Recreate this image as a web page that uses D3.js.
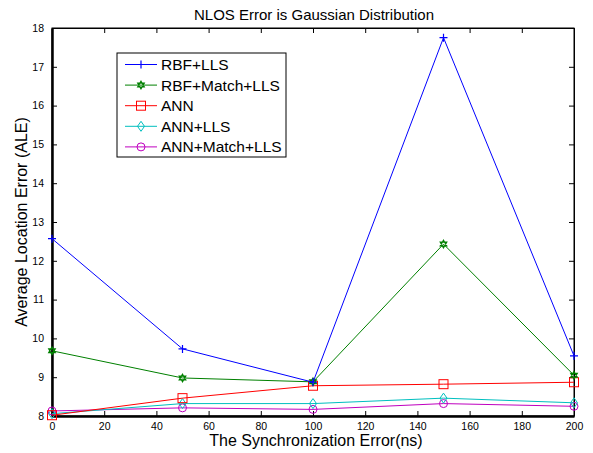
<!DOCTYPE html>
<html>
<head>
<meta charset="utf-8">
<script src="https://cdn.jsdelivr.net/npm/d3@7"></script>
<style>
  body { margin: 0; background: #fff; }
  text { font-family: "Liberation Sans", Arial, sans-serif; }
</style>
</head>
<body>
<script>
// data
var syncError = [0, 50, 100, 150, 200];
var rbfLls = [12.57, 9.73, 8.87, 17.75, 9.55];
var rbfMatchLls = [9.68, 8.98, 8.88, 12.43, 9.05];
var ann = [8.02, 8.46, 8.78, 8.82, 8.87];
var annLls = [8.06, 8.32, 8.32, 8.46, 8.34];
var annMatchLls = [8.13, 8.21, 8.17, 8.32, 8.25];
var seriesNames = ['RBF+LLS', 'RBF+Match+LLS', 'ANN', 'ANN+LLS', 'ANN+Match+LLS'];
var seriesColors = ['#0000ff', '#008000', '#ff0000', '#00bfbf', '#bf00bf'];
var seriesMarkers = ['plus', 'hex', 'square', 'diamond', 'circle'];
var xTicks = [0, 20, 40, 60, 80, 100, 120, 140, 160, 180, 200];
var yTicks = [8, 9, 10, 11, 12, 13, 14, 15, 16, 17, 18];

var allSeries = [rbfLls, rbfMatchLls, ann, annLls, annMatchLls];

var W = 593, H = 453;
var pLeft = 52, pRight = 574, pTop = 28, pBottom = 416;

var svg = d3.select('body').append('svg').attr('width', W).attr('height', H);

var x = d3.scaleLinear().domain([0, 200]).range([pLeft, pRight]);
var y = d3.scaleLinear().domain([8, 18]).range([pBottom, pTop]);

// frame
svg.append('rect').attr('x', pLeft).attr('y', pTop).attr('width', pRight - pLeft).attr('height', pBottom - pTop)
    .attr('fill', 'none').attr('stroke', '#000').attr('stroke-width', 1);

// axes with inward ticks
var gx = svg.append('g').attr('transform', 'translate(0,' + pBottom + ')')
    .call(d3.axisBottom(x).tickValues(xTicks).tickSizeInner(-5).tickSizeOuter(0).tickPadding(7));
var gxTop = svg.append('g').attr('transform', 'translate(0,' + pTop + ')')
    .call(d3.axisTop(x).tickValues(xTicks).tickSizeInner(-5).tickSizeOuter(0).tickFormat(''));
var gy = svg.append('g').attr('transform', 'translate(' + pLeft + ',0)')
    .call(d3.axisLeft(y).tickValues(yTicks).tickSizeInner(-5).tickSizeOuter(0).tickPadding(8));
var gyRight = svg.append('g').attr('transform', 'translate(' + pRight + ',0)')
    .call(d3.axisRight(y).tickValues(yTicks).tickSizeInner(-5).tickSizeOuter(0).tickFormat(''));

[gx, gxTop, gy, gyRight].forEach(function(g){
    g.selectAll('text').style('font-size', '10.5px').attr('fill', '#000');
    g.select('.domain').attr('stroke', '#000');
});
gx.select('.domain').attr('stroke-width', 2.5);
gy.select('.domain').attr('stroke-width', 2.5);

function hexagram(cx, cy, r){
    var p1 = [], p2 = [];
    for (var a = 0; a < 3; a++) {
        var t1 = -Math.PI / 2 + a * 2 * Math.PI / 3;
        var t2 = Math.PI / 2 + a * 2 * Math.PI / 3;
        p1.push([cx + r * Math.cos(t1), cy + r * Math.sin(t1)]);
        p2.push([cx + r * Math.cos(t2), cy + r * Math.sin(t2)]);
    }
    return 'M' + p1.join('L') + 'Z' + 'M' + p2.join('L') + 'Z';
}

function drawMarker(g, type, cx, cy, color){
    if (type == 'plus') {
        g.append('path').attr('d', 'M' + (cx - 4) + ',' + cy + 'H' + (cx + 4) + 'M' + cx + ',' + (cy - 4) + 'V' + (cy + 4))
            .attr('stroke', color).attr('stroke-width', 1.2).attr('fill', 'none');
    } else if (type == 'hex') {
        g.append('path').attr('d', hexagram(cx, cy, 3.8))
            .attr('stroke', color).attr('stroke-width', 1.2).attr('fill', 'none');
    } else if (type == 'square') {
        g.append('rect').attr('x', cx - 4.5).attr('y', cy - 4.5).attr('width', 9).attr('height', 9)
            .attr('stroke', color).attr('stroke-width', 1).attr('fill', 'none');
    } else if (type == 'diamond') {
        g.append('path').attr('d', 'M' + cx + ',' + (cy - 5) + 'L' + (cx + 3.5) + ',' + cy + 'L' + cx + ',' + (cy + 5) + 'L' + (cx - 3.5) + ',' + cy + 'Z')
            .attr('stroke', color).attr('stroke-width', 1).attr('fill', 'none');
    } else {
        g.append('circle').attr('cx', cx).attr('cy', cy).attr('r', 4)
            .attr('stroke', color).attr('stroke-width', 1).attr('fill', 'none');
    }
}

var line = d3.line().x(function(d, i){ return x(syncError[i]); }).y(function(d){ return y(d); });

// series drawn in reverse so blue ends on top
for (var s = allSeries.length - 1; s >= 0; s--) {
    var g = svg.append('g');
    g.append('path').datum(allSeries[s]).attr('d', line).attr('fill', 'none')
        .attr('stroke', seriesColors[s]).attr('stroke-width', 1);
    for (var i = 0; i < syncError.length; i++) {
        drawMarker(g, seriesMarkers[s], x(syncError[i]), y(allSeries[s][i]), seriesColors[s]);
    }
}

// title and axis labels
svg.append('text').attr('x', 314).attr('y', 19.5).attr('text-anchor', 'middle')
    .style('font-size', '15px').text('NLOS Error is Gaussian Distribution');
svg.append('text').attr('x', 316).attr('y', 446).attr('text-anchor', 'middle')
    .style('font-size', '16px').text('The Synchronization Error(ns)');
svg.append('text').attr('transform', 'translate(27,' + ((pTop + pBottom) / 2) + ') rotate(-90)')
    .attr('text-anchor', 'middle').style('font-size', '16px').text('Average Location Error (ALE)');

// legend
var leg = svg.append('g');
leg.append('rect').attr('x', 117).attr('y', 53).attr('width', 169).attr('height', 104)
    .attr('fill', '#fff').attr('stroke', '#000').attr('stroke-width', 1);
for (var k = 0; k < seriesNames.length; k++) {
    var ly = 64.5 + k * 20.6;
    leg.append('line').attr('x1', 125).attr('x2', 157).attr('y1', ly).attr('y2', ly)
        .attr('stroke', seriesColors[k]).attr('stroke-width', 1);
    drawMarker(leg, seriesMarkers[k], 141, ly, seriesColors[k]);
    leg.append('text').attr('x', 161).attr('y', ly + 5.5).style('font-size', '15.5px').text(seriesNames[k]);
}
</script>
</body>
</html>
